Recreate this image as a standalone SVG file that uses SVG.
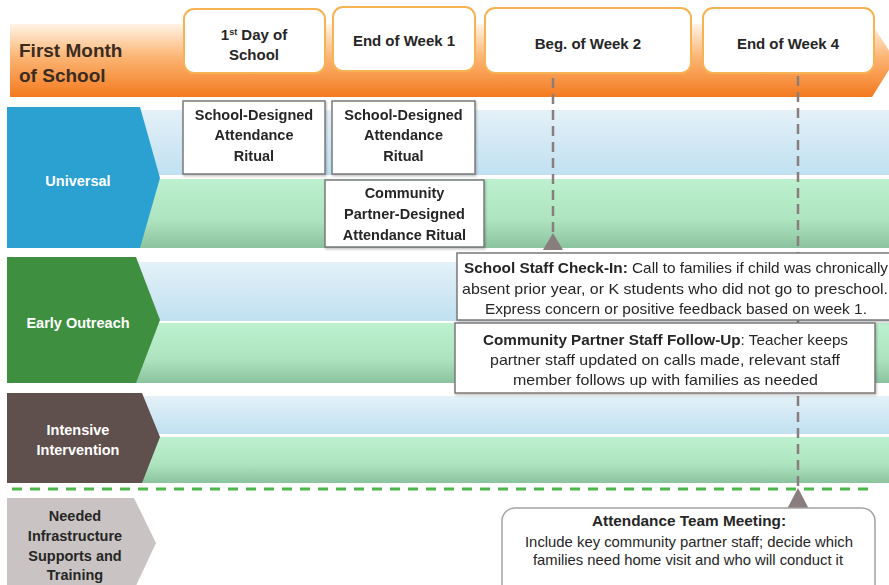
<svg xmlns="http://www.w3.org/2000/svg" width="889" height="585" viewBox="0 0 889 585">
<defs>
<linearGradient id="gOrange" x1="0" y1="0" x2="0" y2="1">
<stop offset="0" stop-color="#fff3e6"/>
<stop offset="0.45" stop-color="#fbb574"/>
<stop offset="1" stop-color="#f47a1f"/>
</linearGradient>
<linearGradient id="gBlue" x1="0" y1="0" x2="0" y2="1">
<stop offset="0" stop-color="#e4f1f8"/>
<stop offset="1" stop-color="#c0e0f1"/>
</linearGradient>
<linearGradient id="gGreen" x1="0" y1="0" x2="0" y2="1">
<stop offset="0" stop-color="#bdf0cf"/>
<stop offset="0.6" stop-color="#ade4bf"/>
<stop offset="1" stop-color="#8cc39f"/>
</linearGradient>
<filter id="shadow" x="-5%" y="-5%" width="115%" height="125%">
<feDropShadow dx="1" dy="1.5" stdDeviation="1" flood-color="#000" flood-opacity="0.25"/>
</filter>
</defs>
<style>
text{font-family:"Liberation Sans",Arial,sans-serif;fill:#262626}
.b{font-weight:bold}
.hd{font-size:15px;font-weight:bold;text-anchor:middle}
.box{font-size:14.5px;font-weight:bold;text-anchor:middle}
.lab{font-size:14.5px;font-weight:bold;text-anchor:middle;fill:#fff}
.note{font-size:14.5px;text-anchor:middle}
.hbox{fill:#fff;stroke:#f7b253;stroke-width:2}
.rbox{fill:#fff;stroke:#7a7a7a;stroke-width:1.5}
.blue{fill:url(#gBlue)}
.green{fill:url(#gGreen)}
.dash{stroke:#8a7d7e;stroke-width:2.5;stroke-dasharray:10 6;fill:none}
.tri{fill:#8a7d7e}
</style>
<rect width="889" height="585" fill="#fff"/>

<g id="header">
<polygon points="10,24 872,24 895,60 872,97 10,97" fill="url(#gOrange)"/>
<text x="19" y="57" style="font-size:19px;font-weight:bold;fill:#3a2c22">First Month</text>
<text x="19" y="82" style="font-size:19px;font-weight:bold;fill:#3a2c22">of School</text>
</g>

<g id="bands">
<rect class="blue" x="100" y="110" width="789" height="65"/>
<rect class="green" x="100" y="179" width="789" height="69"/>
<rect class="blue" x="100" y="262" width="789" height="59"/>
<rect class="green" x="100" y="323" width="789" height="60"/>
<rect class="blue" x="100" y="396" width="789" height="38"/>
<rect class="green" x="100" y="437" width="789" height="46"/>
</g>

<g id="connectors">
<line class="dash" x1="553" y1="78" x2="553" y2="236"/>
<path class="tri" d="M553,233 L563,250 L543,250 Z"/>
<line class="dash" x1="798" y1="76" x2="798" y2="490"/>
<path class="tri" d="M798,488 L809,509 L787,509 Z"/>
<line x1="12" y1="489" x2="872" y2="489" stroke="#4cb84c" stroke-width="3" stroke-dasharray="10 8"/>
</g>

<g id="day1">
<rect class="hbox" x="184" y="9" width="141" height="64" rx="10"/>
<text class="hd" x="254" y="40">1<tspan style="font-size:9px" dy="-5">st</tspan><tspan dy="5"> Day of</tspan></text>
<text class="hd" x="254" y="60">School</text>
</g>
<g id="week1">
<rect class="hbox" x="333" y="7" width="142" height="64" rx="10"/>
<text class="hd" x="404" y="46">End of Week 1</text>
</g>
<g id="week2">
<rect class="hbox" x="485" y="8" width="206" height="65" rx="10"/>
<text class="hd" x="588" y="49">Beg. of Week 2</text>
</g>
<g id="week4">
<rect class="hbox" x="703" y="8" width="171" height="65" rx="10"/>
<text class="hd" x="788" y="49">End of Week 4</text>
</g>

<g id="universal">
<polygon points="7,107 140,107 160,178 140,248 7,248" fill="#2ba1d1"/>
<text class="lab" x="78" y="186">Universal</text>
</g>
<g id="early-outreach">
<polygon points="7,257 136,257 160,320 136,383 7,383" fill="#3e8f3f"/>
<text class="lab" x="78" y="328">Early Outreach</text>
</g>
<g id="intensive">
<polygon points="7,393 142,393 160,437 142,483 7,483" fill="#5f504e"/>
<text class="lab" x="78" y="435">Intensive</text>
<text class="lab" x="78" y="455">Intervention</text>
</g>
<g id="infrastructure">
<polygon points="7,498 134,498 156,543 134,590 7,590" fill="#c9c4c3"/>
<text class="box" x="75" y="521">Needed</text>
<text class="box" x="75" y="541">Infrastructure</text>
<text class="box" x="75" y="561">Supports and</text>
<text class="box" x="75" y="580">Training</text>
</g>

<g id="ritual-school-day1" filter="url(#shadow)">
<rect class="rbox" x="183" y="101" width="142" height="73"/>
<text class="box" x="254" y="120">School-Designed</text>
<text class="box" x="254" y="140">Attendance</text>
<text class="box" x="254" y="161">Ritual</text>
</g>
<g id="ritual-school-week1" filter="url(#shadow)">
<rect class="rbox" x="332" y="101" width="143" height="73"/>
<text class="box" x="403.5" y="120">School-Designed</text>
<text class="box" x="403.5" y="140">Attendance</text>
<text class="box" x="403.5" y="161">Ritual</text>
</g>
<g id="ritual-partner-week1" filter="url(#shadow)">
<rect class="rbox" x="325" y="180" width="159" height="67"/>
<text class="box" x="404.5" y="198">Community</text>
<text class="box" x="404.5" y="219">Partner-Designed</text>
<text class="box" x="404.5" y="240">Attendance Ritual</text>
</g>

<g id="check-in" filter="url(#shadow)">
<rect class="rbox" x="457" y="253" width="445" height="67"/>
<text class="note" x="676" y="273" textLength="424" lengthAdjust="spacingAndGlyphs"><tspan class="b">School Staff Check-In:</tspan> Call to families if child was chronically</text>
<text class="note" x="675" y="294" textLength="426" lengthAdjust="spacingAndGlyphs">absent prior year, or K students who did not go to preschool.</text>
<text class="note" x="676" y="314" textLength="382" lengthAdjust="spacingAndGlyphs">Express concern or positive feedback based on week 1.</text>
</g>
<g id="follow-up" filter="url(#shadow)">
<rect class="rbox" x="455" y="323" width="420" height="70"/>
<text class="note" x="665.5" y="345" textLength="365" lengthAdjust="spacingAndGlyphs"><tspan class="b">Community Partner Staff Follow-Up</tspan>: Teacher keeps</text>
<text class="note" x="665" y="365" textLength="350" lengthAdjust="spacingAndGlyphs">partner staff updated on calls made, relevant staff</text>
<text class="note" x="665.5" y="385" textLength="305" lengthAdjust="spacingAndGlyphs">member follows up with families as needed</text>
</g>
<g id="team-meeting">
<rect x="502" y="508" width="373" height="95" rx="13" fill="#fff" stroke="#a3a3a3" stroke-width="1.5"/>
<text class="note b" x="689" y="526" textLength="194" lengthAdjust="spacingAndGlyphs">Attendance Team Meeting:</text>
<text class="note" x="689" y="547" textLength="328" lengthAdjust="spacingAndGlyphs">Include key community partner staff; decide which</text>
<text class="note" x="688" y="565" textLength="310" lengthAdjust="spacingAndGlyphs">families need home visit and who will conduct it</text>
</g>
</svg>
